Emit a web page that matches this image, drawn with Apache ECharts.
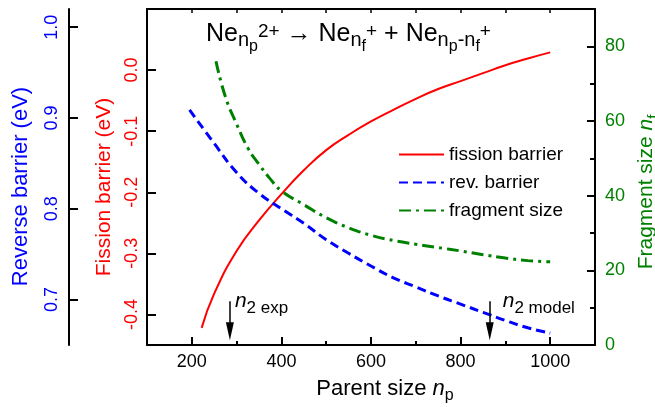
<!DOCTYPE html>
<html><head><meta charset="utf-8">
<script src="https://cdn.jsdelivr.net/npm/echarts@6/dist/echarts.min.js"></script>
<style>html,body{margin:0;padding:0;background:#fff}#c{width:655px;height:407px}</style>
</head><body><div id="c"></div>
<script>
// ---- data ----
const npFission = [222, 250, 300, 350, 400, 450, 500, 550, 600, 650, 700, 750, 800, 850, 900, 950, 1000];
const fissionBarrier = [-0.422, -0.366, -0.296, -0.246, -0.203, -0.164, -0.131, -0.106, -0.084, -0.065, -0.047, -0.031, -0.018, -0.005, 0.008, 0.019, 0.029];
const npReverse = [195, 250, 300, 350, 400, 450, 500, 550, 600, 650, 700, 750, 800, 850, 900, 950, 1000];
const reverseBarrier = [0.909, 0.872, 0.840, 0.817, 0.800, 0.784, 0.766, 0.751, 0.737, 0.724, 0.714, 0.704, 0.695, 0.686, 0.677, 0.669, 0.663];
const npFragment = [254, 275, 300, 325, 350, 375, 400, 450, 500, 550, 600, 650, 700, 750, 800, 850, 900, 950, 1000];
const fragmentSize = [76, 66.5, 59.2, 52.8, 48.4, 44.5, 41.3, 37.6, 34.1, 31.4, 29.4, 28.0, 27.0, 26.1, 25.2, 24.2, 23.3, 22.6, 22.3];
const seriesNames = ['fission barrier', 'rev. barrier', 'fragment size'];
const xMajorTicks = [200, 400, 600, 800, 1000];
const xMinorTicks = [300, 500, 700, 900];
const xTopTicks = [200, 300, 400, 500, 600, 700, 800, 900, 1000];
const fissionTicks = [-0.4, -0.3, -0.2, -0.1, 0.0];
const reverseTicks = [0.7, 0.8, 0.9, 1.0];
const fragMajorTicks = [0, 20, 40, 60, 80];
const fragMinorTicks = [10, 30, 50, 70];
const annotationNp = [285, 865];
const annotationSub = ['2 exp', '2 model'];
const arrowSpan = [11.7, 3.7]; // on fragment-size axis

// ---- styles ----
const F = 'Liberation Sans';
const RED = '#ff0000', BLUE = '#0000ff', GREEN = '#008000';
const zip = (a, b) => a.map((v, i) => [v, b[i]]);

const chart = echarts.init(document.getElementById('c'));
const axisLine = { show: true, onZero: false, lineStyle: { color: '#000', width: 2 } };
const rt = (size, color, extra) => Object.assign({ fontSize: size, lineHeight: size, fontFamily: F, color: color, fontWeight: 'normal', verticalAlign: 'bottom' }, extra || {});

chart.setOption({
  animation: false,
  backgroundColor: '#fff',
  textStyle: { fontFamily: F },
  title: {
    left: 206, top: 30, padding: 0,
    text: '{b|Ne}{s|n}{ss|p}{sp|2+}{b| \u2192 Ne}{s|n}{ss|f}{sp|+}{b| + Ne}{s|n}{ss|p}{s|-n}{ss|f}{sp|+}',
    textStyle: {
      fontWeight: 'normal',
      rich: {
        b: rt(25, '#000', { padding: [0, 0, 8, 0] }),
        s: rt(20, '#000', { padding: [0, 0, 5, 0] }),
        ss: rt(16, '#000', { padding: [0, 0, 0, 0] }),
        sp: rt(19, '#000', { padding: [0, 0, 14, 0] })
      }
    }
  },
  legend: {
    data: seriesNames, orient: 'vertical', left: 398, top: 145, padding: 0,
    itemWidth: 45, itemHeight: 14, itemGap: 9,
    itemStyle: { opacity: 0 },
    textStyle: { fontSize: 19, color: '#000', fontFamily: F },
    selectedMode: false
  },
  grid: { left: 147, right: 60, top: 9, bottom: 62, outerBoundsMode: 'none', containLabel: false },
  xAxis: [
    {
      type: 'value', min: 100, max: 1100, position: 'bottom',
      axisLine, splitLine: { show: false },
      axisTick: { inside: true, length: 8, customValues: xMajorTicks, lineStyle: { color: '#000', width: 2 } },
      axisLabel: { customValues: xMajorTicks, fontSize: 18, color: '#000', margin: 8, fontFamily: F, formatter: v => String(v) },
      name: '{t|Parent size }{i|n}{s|p}', nameLocation: 'middle', nameGap: 37,
      nameTextStyle: {
        rich: {
          t: rt(22, '#000', { padding: [0, 0, 4, 28] }),
          i: rt(22, '#000', { fontStyle: 'italic', padding: [0, 0, 4, 0] }),
          s: rt(16, '#000')
        }
      }
    },
    {
      type: 'value', min: 100, max: 1100, position: 'bottom',
      axisLine: { show: false, onZero: false }, splitLine: { show: false }, axisLabel: { show: false },
      axisTick: { inside: true, length: 4, customValues: xMinorTicks, lineStyle: { color: '#000', width: 2 } }
    },
    {
      type: 'value', min: 100, max: 1100, position: 'top',
      axisLine, splitLine: { show: false }, axisLabel: { show: false },
      axisTick: { inside: true, length: 4, customValues: xTopTicks, lineStyle: { color: '#000', width: 1.5 } }
    }
  ],
  yAxis: [
    {
      type: 'value', min: -0.45, max: 0.1, position: 'left',
      axisLine, splitLine: { show: false },
      axisTick: { inside: true, length: 9, customValues: fissionTicks, lineStyle: { color: '#000', width: 2 } },
      axisLabel: { customValues: fissionTicks, rotate: 90, fontSize: 18, color: RED, margin: 6, fontFamily: F,
        formatter: v => v.toFixed(1) },
      name: 'Fission barrier (eV)', nameLocation: 'middle', nameRotate: 90, nameGap: 26,
      nameTextStyle: { color: RED, fontSize: 21, fontFamily: F, padding: [0, 20, 0, 0] }
    },
    {
      type: 'value', min: 0.65, max: 1.02, position: 'left', offset: 78,
      axisLine, splitLine: { show: false },
      axisTick: { inside: true, length: 9, customValues: reverseTicks, lineStyle: { color: '#000', width: 2 } },
      axisLabel: { customValues: reverseTicks, rotate: 90, fontSize: 18, color: BLUE, margin: 8, fontFamily: F,
        formatter: v => v.toFixed(1) },
      name: 'Reverse barrier (eV)', nameLocation: 'middle', nameRotate: 90, nameGap: 37,
      nameTextStyle: { color: BLUE, fontSize: 22, fontFamily: F, padding: [0, 19, 0, 0] }
    },
    {
      type: 'value', min: 0, max: 90, position: 'right',
      axisLine, splitLine: { show: false },
      axisTick: { inside: true, length: 8, customValues: fragMajorTicks, lineStyle: { color: '#000', width: 2 } },
      axisLabel: { customValues: fragMajorTicks, fontSize: 18, color: GREEN, margin: 10, fontFamily: F },
      name: '{t|Fragment size }{i|n}{s|f}', nameLocation: 'middle', nameRotate: 90, nameGap: 45,
      nameTextStyle: {
        rich: {
          t: rt(21, GREEN, { padding: [0, 0, 4, 0] }),
          i: rt(21, GREEN, { fontStyle: 'italic', padding: [0, 0, 4, 0] }),
          s: rt(15, GREEN, { padding: [0, 30, 0, 0] })
        }
      }
    },
    {
      type: 'value', min: 0, max: 90, position: 'right',
      axisLine: { show: false, onZero: false }, splitLine: { show: false }, axisLabel: { show: false },
      axisTick: { inside: true, length: 5, customValues: fragMinorTicks, lineStyle: { color: '#000', width: 2 } }
    }
  ],
  series: [
    {
      name: seriesNames[0], type: 'line', xAxisIndex: 0, yAxisIndex: 0, smooth: 0.5,
      showSymbol: false, symbol: 'none', data: zip(npFission, fissionBarrier),
      lineStyle: { color: RED, width: 2 }, itemStyle: { color: RED }
    },
    {
      name: seriesNames[1], type: 'line', xAxisIndex: 0, yAxisIndex: 1, smooth: 0.5,
      showSymbol: false, symbol: 'none', data: zip(npReverse, reverseBarrier),
      lineStyle: { color: BLUE, width: 3, type: [9, 5] }, itemStyle: { color: BLUE }
    },
    {
      name: seriesNames[2], type: 'line', xAxisIndex: 0, yAxisIndex: 2, smooth: 0.5,
      showSymbol: false, symbol: 'none', data: zip(npFragment, fragmentSize),
      lineStyle: { color: GREEN, width: 3, type: [12, 5, 3, 5] }, itemStyle: { color: GREEN },
      markLine: {
        silent: true, symbol: ['none', 'triangle'], symbolSize: [8, 18],
        label: { show: false }, emphasis: { disabled: true },
        lineStyle: { color: '#000', width: 1.5, type: 'solid' }, itemStyle: { color: '#000' },
        data: annotationNp.map(v => [{ coord: [v, arrowSpan[0]] }, { coord: [v, arrowSpan[1]] }])
      }
    }
  ]
});

// annotation labels positioned through the axes
const labelDx = [5, 13];
const graphics = annotationNp.map((v, i) => {
  const p = chart.convertToPixel({ xAxisIndex: 0, yAxisIndex: 2 }, [v, arrowSpan[0]]);
  return {
    type: 'text', x: p[0] + labelDx[i], y: p[1] + 15,
    style: {
      text: '{i|n}{s|' + annotationSub[i] + '}', verticalAlign: 'bottom', align: 'left',
      rich: {
        i: { fontSize: 21, lineHeight: 21, fontFamily: F, fontStyle: 'italic', fill: '#000', verticalAlign: 'bottom', padding: [0, 0, 5, 0] },
        s: { fontSize: 17, lineHeight: 17, fontFamily: F, fill: '#000', verticalAlign: 'bottom' }
      }
    }
  };
});
chart.setOption({ graphic: graphics });
</script></body></html>
